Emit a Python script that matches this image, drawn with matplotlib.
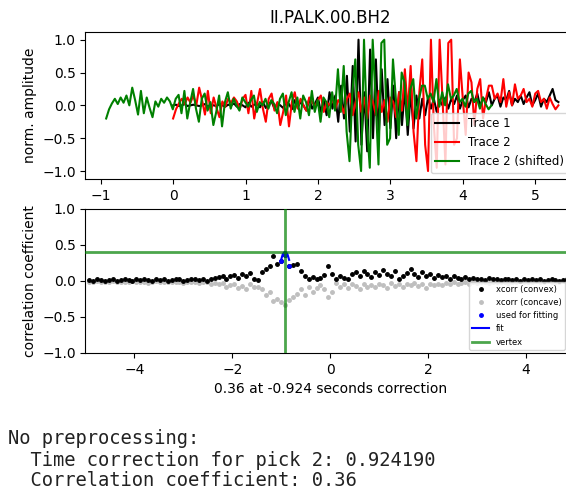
"""Cross-correlation pick correction plot"""
import numpy as np
import matplotlib
matplotlib.use('Agg')
import matplotlib.pyplot as plt

STATION = 'II.PALK.00.BH2'
DT = 0.04                 # sample interval of the traces (s)
TIME_CORRECTION = 0.924190
CC_REPORTED = 0.36

# normalised amplitudes, one sample every DT seconds starting at t = 0
trace1 = [0.00, 0.01, -0.01, 0.00, 0.02, -0.01, 0.00, 0.01, 0.00, -0.01,
          0.00, 0.02, -0.02, 0.01, 0.00, -0.01, 0.02, 0.00, -0.02, 0.01,
          0.00, 0.03, -0.02, 0.02, 0.00, -0.03, 0.04, -0.02, 0.01, 0.03,
          -0.03, 0.05, -0.04, 0.02, 0.06, -0.05, 0.03, 0.00, -0.04, 0.05,
          0.02, -0.06, 0.08, -0.03, 0.05, 0.00, -0.08, 0.10, -0.05, 0.03,
          0.12, -0.10, 0.08, -0.15, 0.20, -0.05, 0.15, -0.25, 0.30, -0.20,
          0.45, -0.40, 0.60, -0.55, 1.00, -0.60, 0.20, -0.70, 0.85, -0.50,
          0.70, -0.45, 0.55, -0.30, 0.40, -0.35, 0.30, -0.50, 0.20, -0.30,
          0.25, -0.45, 0.20, -0.35, 0.15, -0.20, 0.10, -0.15, 0.12, -0.05,
          0.10, -0.10, 0.08, 0.00, 0.12, -0.05, 0.10, 0.02, 0.15, -0.05,
          0.08, 0.15, -0.03, 0.10, 0.05, 0.18, -0.02, 0.12, 0.05, 0.20,
          0.00, 0.10, 0.15, -0.02, 0.12, 0.08, 0.22, 0.00, 0.10, 0.05,
          0.15, 0.02, 0.12, 0.20, 0.00, 0.08, 0.18, -0.02, 0.10, 0.05,
          0.15, 0.25, 0.08, 0.05]

trace2 = [-0.20, -0.06, 0.03, 0.10, 0.02, 0.12, 0.04, 0.15, 0.00, 0.27,
          0.08, -0.14, 0.22, -0.12, 0.12, -0.04, -0.18, 0.06, -0.02, 0.10,
          0.04, 0.12, 0.06, -0.06, 0.10, 0.16, -0.12, 0.22, -0.20, 0.04,
          0.25, -0.05, -0.25, 0.10, 0.18, -0.08, 0.05, -0.30, -0.10, 0.15,
          -0.32, 0.05, 0.20, -0.05, 0.10, 0.00, -0.08, 0.12, 0.05, -0.02,
          0.08, 0.15, -0.10, 0.05, 0.00, 0.10, -0.05, 0.08, 0.02, -0.12,
          0.10, 0.18, -0.15, 0.05, 0.20, -0.10, 0.12, -0.20, 0.15, 0.05,
          -0.15, 0.22, -0.10, 0.08, -0.25, 0.12, 0.05, -0.18, 0.20, -0.08,
          0.55, -0.10, 0.60, -0.40, -0.85, 0.20, 0.70, -0.60, -1.00, 1.00,
          -0.30, -0.95, 1.00, 0.10, -0.90, 0.95, 1.00, -0.60, -0.50, 0.70,
          0.10, -0.45, 0.50, 0.35, -0.30, 0.25, 0.40, -0.20, 0.10, 0.30,
          0.30, 0.10, 0.18, 0.05, 0.40, -0.02, 0.20, 0.00, 0.32, 0.10,
          0.15, 0.25, 0.05, 0.10, -0.02, 0.18, 0.22, 0.05, 0.10, -0.05,
          0.12, 0.02, -0.06, 0.00]

# correlation coefficient, one value every LAG_STEP seconds from LAG_FIRST
LAG_FIRST = -4.92
LAG_STEP = 0.08
cc_convex = [0.01, 0.00, 0.02, 0.01, 0.00, 0.01, 0.02, 0.00, 0.01, 0.02,
             0.01, 0.00, 0.02, 0.01, 0.03, 0.01, 0.00, 0.02, 0.01, 0.02,
             0.00, 0.01, 0.03, 0.02, 0.00, 0.01, 0.02, 0.03, 0.01, 0.02,
             0.00, 0.03, 0.04,
             0.05, 0.07, 0.03, 0.06, 0.08, 0.04, 0.10, 0.06, 0.11, 0.02,
             0.01, 0.12, 0.16, 0.20, 0.34, 0.24, 0.28, 0.36, 0.20, 0.22,
             0.23, 0.14, 0.06, 0.03, 0.05, 0.02, 0.04, 0.08, 0.20, 0.09,
             0.03, 0.06, 0.04, 0.02, 0.10, 0.12, 0.06, 0.14, 0.10, 0.05,
             0.12, 0.08, 0.15, 0.10, 0.06, 0.13, 0.03, 0.07, 0.11, 0.16,
             0.10, 0.05, 0.12, 0.07, 0.09, 0.04,
             0.08, 0.05, 0.06, 0.03, 0.07, 0.04, 0.02, 0.05, 0.03, 0.04,
             0.02, 0.03, 0.01, 0.04, 0.02, 0.03, 0.01, 0.02, 0.03, 0.01,
             0.02, 0.00, 0.02, 0.01, 0.03, 0.01, 0.02, 0.00, 0.01, 0.02,
             0.01, 0.00, 0.01, 0.02, 0.01]
cc_concave = [-0.01, -0.02, 0.00, -0.01, -0.02, -0.01, 0.00, -0.02, -0.01, -0.01,
              -0.02, 0.00, -0.01, -0.02, -0.01, -0.03, -0.01, 0.00, -0.02, -0.01,
              -0.02, -0.01, -0.02, -0.01, -0.03, -0.02, -0.01, -0.02, -0.03, -0.01,
              -0.02, -0.04, -0.03,
              -0.05, -0.03, -0.08, -0.06, -0.04, -0.10, -0.07, -0.12, -0.05, -0.09,
              -0.08, -0.12, -0.20, -0.16, -0.28, -0.25, -0.30, -0.34, -0.26, -0.22,
              -0.18, -0.12, -0.20, -0.08, -0.15, -0.10, -0.06, -0.12, -0.22, -0.16,
              -0.03, -0.08, -0.05, -0.10, -0.04, -0.07, -0.12, -0.05, -0.09, -0.06,
              -0.08, -0.04, -0.06, -0.10, -0.03, -0.07, -0.05, -0.09, -0.04, -0.06,
              -0.03, -0.07, -0.05, -0.10, -0.04, -0.06,
              -0.04, -0.06, -0.03, -0.05, -0.02, -0.04, -0.03, -0.02, -0.04, -0.01,
              -0.03, -0.02, -0.01, -0.03, -0.02, -0.01, -0.02, -0.01, -0.03, -0.01,
              -0.02, 0.00, -0.01, -0.02, -0.01, 0.00, -0.02, -0.01, 0.00, -0.01,
              -0.02, -0.01, 0.00, -0.01, 0.00]

fit_lags = [-1.00, -0.92, -0.84]
fit_cc = [0.28, 0.36, 0.20]
fitline_lags = [-1.00, -0.97, -0.94, -0.924, -0.90, -0.87, -0.84]
fitline_cc = [0.30, 0.37, 0.395, 0.40, 0.395, 0.36, 0.29]
vertex_lag = -0.924
vertex_cc = 0.40

REPORT = ['No preprocessing:',
          '  Time correction for pick 2: %f' % TIME_CORRECTION,
          '  Correlation coefficient: %.2f' % CC_REPORTED]


def _plot_traces(axis):
    t = np.arange(len(trace1)) * DT
    axis.plot(t, trace1, 'k', lw=1.5, label='Trace 1')
    axis.plot(t, trace2, 'r', lw=1.5, label='Trace 2')
    axis.plot(t - TIME_CORRECTION, trace2, 'g', lw=1.5, label='Trace 2 (shifted)')
    axis.set_xlim(-1.21, 5.55)
    axis.set_ylim(-1.12, 1.12)
    axis.set_ylabel('norm. amplitude', fontsize=10)
    axis.set_title(STATION, fontsize=12)
    axis.legend(loc='lower right', fontsize=8.5)


def _plot_xcorr(axis, fig):
    lags = LAG_FIRST + LAG_STEP * np.arange(len(cc_convex))
    axis.plot(lags, cc_convex, '.', color='k', ms=5, label='xcorr (convex)', zorder=3)
    axis.plot(lags, cc_concave, '.', color='0.75', ms=5, label='xcorr (concave)', zorder=2)
    axis.plot(fit_lags, fit_cc, '.', color='b', ms=5, label='used for fitting', zorder=4)
    axis.plot(fitline_lags, fitline_cc, '-', color='b', lw=1.5, label='fit', zorder=4)
    axis.axvline(vertex_lag, color='g', lw=2, alpha=0.7, label='vertex', zorder=5)
    axis.axhline(vertex_cc, color='g', lw=2, alpha=0.7, zorder=5)
    axis.set_xlim(-5, 5)
    axis.set_ylim(-1, 1)
    axis.set_ylabel('correlation coefficient', fontsize=10)
    axis.set_xlabel('%.2f at %.3f seconds correction' % (CC_REPORTED, -TIME_CORRECTION),
                    fontsize=10)
    axis.legend(loc='lower right', fontsize=6, bbox_to_anchor=(0.998, 0.296),
                bbox_transform=fig.transFigure, borderaxespad=0.0)


fig = plt.figure(figsize=(5.66, 4.97), dpi=100)
ax1 = fig.add_axes([0.151, 0.640, 0.865, 0.296])
ax2 = fig.add_axes([0.151, 0.290, 0.865, 0.290])
_plot_traces(ax1)
_plot_xcorr(ax2, fig)
for ax in (ax1, ax2):
    ax.tick_params(axis='both', which='major', labelsize=10)

for i, line in enumerate(REPORT):
    fig.text(8 / 566, 1 - (439 + 21 * i) / 497, line, family='DejaVu Sans Mono',
             fontsize=13.5, va='center', ha='left', color='#222222')

fig.savefig('out.png', dpi=100)
plt.close(fig)
